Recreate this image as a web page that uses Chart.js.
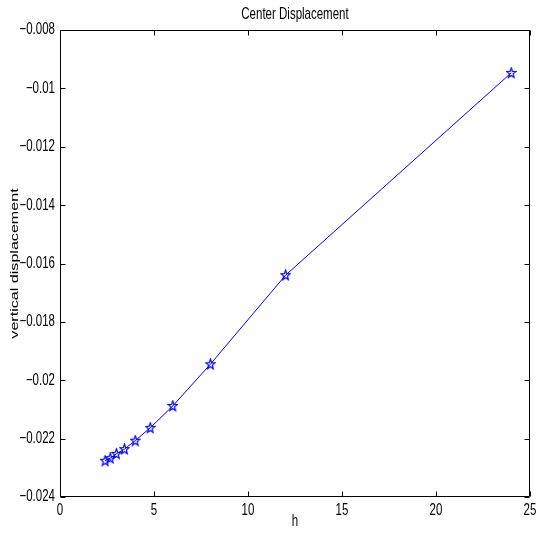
<!DOCTYPE html>
<html>
<head>
<meta charset="utf-8">
<title>Center Displacement</title>
<script src="https://cdn.jsdelivr.net/npm/chart.js@4/dist/chart.umd.min.js"></script>
<style>
  html, body { margin: 0; padding: 0; background: #ffffff; }
  #wrap { width: 536px; height: 534px; }
</style>
</head>
<body>
<div id="wrap"><canvas id="chart" width="536" height="534"></canvas></div>
<script>
// Mesh size h and the computed vertical displacement at the plate centre
const hValues = [24, 12, 8, 6, 4.8, 4, 3.43, 3, 2.67, 2.4];
const displacement = [-0.00947, -0.0164, -0.01945, -0.02088, -0.02163, -0.02207, -0.02236, -0.02252, -0.02267, -0.02276];

// Axis tick values and their printed labels
const xTicks = [0, 5, 10, 15, 20, 25];
const xTickLabels = ['0', '5', '10', '15', '20', '25'];
const yTicks = [-0.024, -0.022, -0.02, -0.018, -0.016, -0.014, -0.012, -0.01, -0.008];
const yTickLabels = ['\u22120.024', '\u22120.022', '\u22120.02', '\u22120.018', '\u22120.016', '\u22120.014', '\u22120.012', '\u22120.01', '\u22120.008'];

const FONT = "'Liberation Sans', Arial, Helvetica, sans-serif";
const FONT_SIZE = 11.5;
const TEXT_STRETCH = 1.4;   // glyphs are drawn taller than wide
const BLUE = '#0000ff';

const canvas = document.getElementById('chart');
const ctx2d = canvas.getContext('2d');

// Draw every label stretched vertically (in screen space) about its anchor point
const plainFillText = ctx2d.fillText.bind(ctx2d);
ctx2d.fillText = function (text, x, y, maxWidth) {
  const m = ctx2d.getTransform();
  const p = m.transformPoint(new DOMPoint(x, y));
  const t = new DOMMatrix()
    .translate(p.x, p.y)
    .scale(1, TEXT_STRETCH)
    .translate(-p.x, -p.y)
    .multiply(m);
  ctx2d.save();
  ctx2d.setTransform(t);
  if (maxWidth === undefined) plainFillText(text, x, y);
  else plainFillText(text, x, y, maxWidth);
  ctx2d.restore();
};

// Five-pointed star marker
function makePentagram(color) {
  const c = document.createElement('canvas');
  c.width = 11; c.height = 12;
  const g = c.getContext('2d');
  const cx = 5.5, cy = 6.2, ro = 5, ri = 2.1;
  g.beginPath();
  for (let i = 0; i < 10; i++) {
    const r = i % 2 === 0 ? ro : ri;
    const a = -Math.PI / 2 + i * Math.PI / 5;
    const px = cx + r * Math.cos(a) * 0.95;
    const py = cy + r * Math.sin(a) * 1.05;
    if (i === 0) g.moveTo(px, py); else g.lineTo(px, py);
  }
  g.closePath();
  g.strokeStyle = color;
  g.lineWidth = 1.2;
  g.stroke();
  return c;
}
const starMarker = makePentagram(BLUE);

const points = hValues.map((h, i) => ({ x: h, y: displacement[i] }));

// Box frame with inward tick marks on all four sides
const boxFrame = {
  id: 'boxFrame',
  afterDatasetsDraw(chart) {
    const { ctx, chartArea: a, scales } = chart;
    const L = Math.round(a.left) + 0.5, R = Math.round(a.right) - 0.5;
    const T = Math.round(a.top) + 0.5, B = Math.round(a.bottom) - 0.5;
    const len = 5;
    ctx.save();
    ctx.strokeStyle = '#000000';
    ctx.lineWidth = 1;
    ctx.beginPath();
    ctx.rect(L, T, R - L, B - T);
    xTicks.forEach(v => {
      const px = Math.round(scales.x.getPixelForValue(v)) + 0.5;
      ctx.moveTo(px, B); ctx.lineTo(px, B - len);
      ctx.moveTo(px, T); ctx.lineTo(px, T + len);
    });
    yTicks.forEach(v => {
      const py = Math.round(scales.y.getPixelForValue(v)) + 0.5;
      ctx.moveTo(L, py); ctx.lineTo(L + len, py);
      ctx.moveTo(R, py); ctx.lineTo(R - len, py);
    });
    ctx.stroke();
    ctx.restore();
  }
};

const bgPlugin = {
  id: 'bg',
  beforeDraw(chart) {
    const ctx = chart.ctx;
    ctx.save();
    ctx.fillStyle = '#ffffff';
    ctx.fillRect(0, 0, chart.width, chart.height);
    ctx.restore();
  }
};

new Chart(canvas, {
  type: 'line',
  data: {
    datasets: [{
      data: points,
      borderColor: BLUE,
      borderWidth: 1,
      backgroundColor: BLUE,
      pointStyle: starMarker,
      pointRadius: 5,
      pointHoverRadius: 5,
      fill: false,
      tension: 0
    }]
  },
  options: {
    responsive: false,
    animation: false,
    events: [],
    layout: { padding: { left: 0, right: 6, top: 0, bottom: 0 } },
    plugins: {
      legend: { display: false },
      tooltip: { enabled: false },
      title: {
        display: true,
        fullSize: false,
        text: 'Center Displacement',
        color: '#000000',
        font: { family: FONT, size: FONT_SIZE, weight: 'normal', lineHeight: 1.2 },
        padding: { top: 7.5, bottom: 8.7 }
      }
    },
    scales: {
      x: {
        type: 'linear',
        min: 0, max: 25,
        afterBuildTicks(scale) { scale.ticks = xTicks.map(v => ({ value: v })); },
        afterFit(scale) { scale.height = 37; scale.paddingLeft = 0; scale.paddingRight = 0; },
        grid: { display: false, drawTicks: false },
        border: { display: false },
        ticks: {
          color: '#000000',
          padding: 7,
          maxRotation: 0,
          font: { family: FONT, size: FONT_SIZE },
          callback(v, i) { return xTickLabels[i]; }
        },
        title: {
          display: true,
          text: 'h',
          color: '#000000',
          font: { family: FONT, size: FONT_SIZE },
          padding: { top: 0, bottom: 5.5 }
        }
      },
      y: {
        type: 'linear',
        min: -0.024, max: -0.008,
        afterBuildTicks(scale) { scale.ticks = yTicks.map(v => ({ value: v })); },
        afterFit(scale) { scale.width = 60; scale.paddingTop = 0; scale.paddingBottom = 0; },
        grid: { display: false, drawTicks: false },
        border: { display: false },
        ticks: {
          color: '#000000',
          padding: 5,
          font: { family: FONT, size: FONT_SIZE },
          callback(v, i) { return yTickLabels[i]; }
        },
        title: {
          display: true,
          text: 'vertical displacement',
          color: '#000000',
          font: { family: FONT, size: FONT_SIZE },
          padding: { top: 8.2, bottom: 0 }
        }
      }
    }
  },
  plugins: [bgPlugin, boxFrame]
});
</script>
</body>
</html>
